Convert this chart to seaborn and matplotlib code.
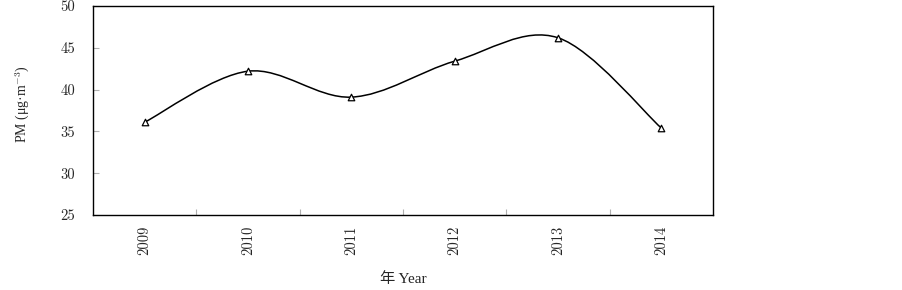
import matplotlib
matplotlib.use("Agg")
import matplotlib.pyplot as plt
from matplotlib.path import Path
from matplotlib.patches import PathPatch
import seaborn as sns
import pandas as pd
import numpy as np

years = ["2009", "2010", "2011", "2012", "2013", "2014"]
pm_values = [36.1, 42.2, 39.1, 43.4, 46.2, 35.4]
y_ticks = [25, 30, 35, 40, 45, 50]

sns.set_theme(style="white")
plt.rcParams["font.family"] = ["cmr10", "Noto Sans CJK SC", "DejaVu Sans"]
plt.rcParams["axes.formatter.use_mathtext"] = True
plt.rcParams["mathtext.fontset"] = "cm"

df = pd.DataFrame({"year": years, "pm": pm_values})

fig = plt.figure(figsize=(9.03, 2.90), dpi=100)
ax = fig.add_axes([93 / 903, 1 - 215 / 290, 620 / 903, 209 / 290])

# smooth (Catmull-Rom style) curve through data points, in data coordinates
xs = np.arange(len(years), dtype=float)
ys = np.array(pm_values, dtype=float)
pts = np.column_stack([xs, ys])
verts = [pts[0]]
codes = [Path.MOVETO]
n = len(pts)
for i in range(n - 1):
    p0 = pts[i - 1] if i > 0 else pts[i]
    p1 = pts[i]
    p2 = pts[i + 1]
    p3 = pts[i + 2] if i + 2 < n else pts[i + 1]
    c1 = p1 + (p2 - p0) / 6.0
    c2 = p2 - (p3 - p1) / 6.0
    verts += [c1, c2, p2]
    codes += [Path.CURVE4] * 3
ax.add_patch(PathPatch(Path(verts, codes), facecolor="none", edgecolor="black", lw=1.1, zorder=2))

sns.scatterplot(data=df, x="year", y="pm", marker="^", s=22, facecolor="white",
                edgecolor="black", linewidth=0.9, ax=ax, zorder=3)

ax.set_xlim(-0.5, len(years) - 0.5)
ax.set_ylim(25, 50)
ax.set_yticks(y_ticks)
ax.set_yticklabels([str(v) for v in y_ticks], fontsize=10.5)
ax.set_xticks(range(len(years)))
ax.set_xticklabels(years, rotation=90, fontsize=10.5)
ax.set_xticks(np.arange(0.5, len(years) - 1, 1.0), minor=True)
ax.tick_params(axis="x", which="major", length=0, pad=8)
ax.tick_params(axis="x", which="minor", direction="in", length=4, color="#b0b0b0", width=0.8, bottom=True)
ax.tick_params(axis="y", which="major", direction="in", length=4, color="#b0b0b0", width=0.8, left=True, pad=13)

for s in ax.spines.values():
    s.set_color("black")
    s.set_linewidth(1.0)

ax.set_xlabel("年 Year", fontsize=11, labelpad=12, family=["Liberation Serif", "Noto Sans CJK SC"])
ax.set_ylabel("PM (μg·m$^{-3}$)", fontsize=10, labelpad=16, family=["Liberation Serif", "DejaVu Serif"])
ax.yaxis.set_label_coords(-0.1, (215 - 104) / 209)

fig.savefig("out.png", dpi=100)
